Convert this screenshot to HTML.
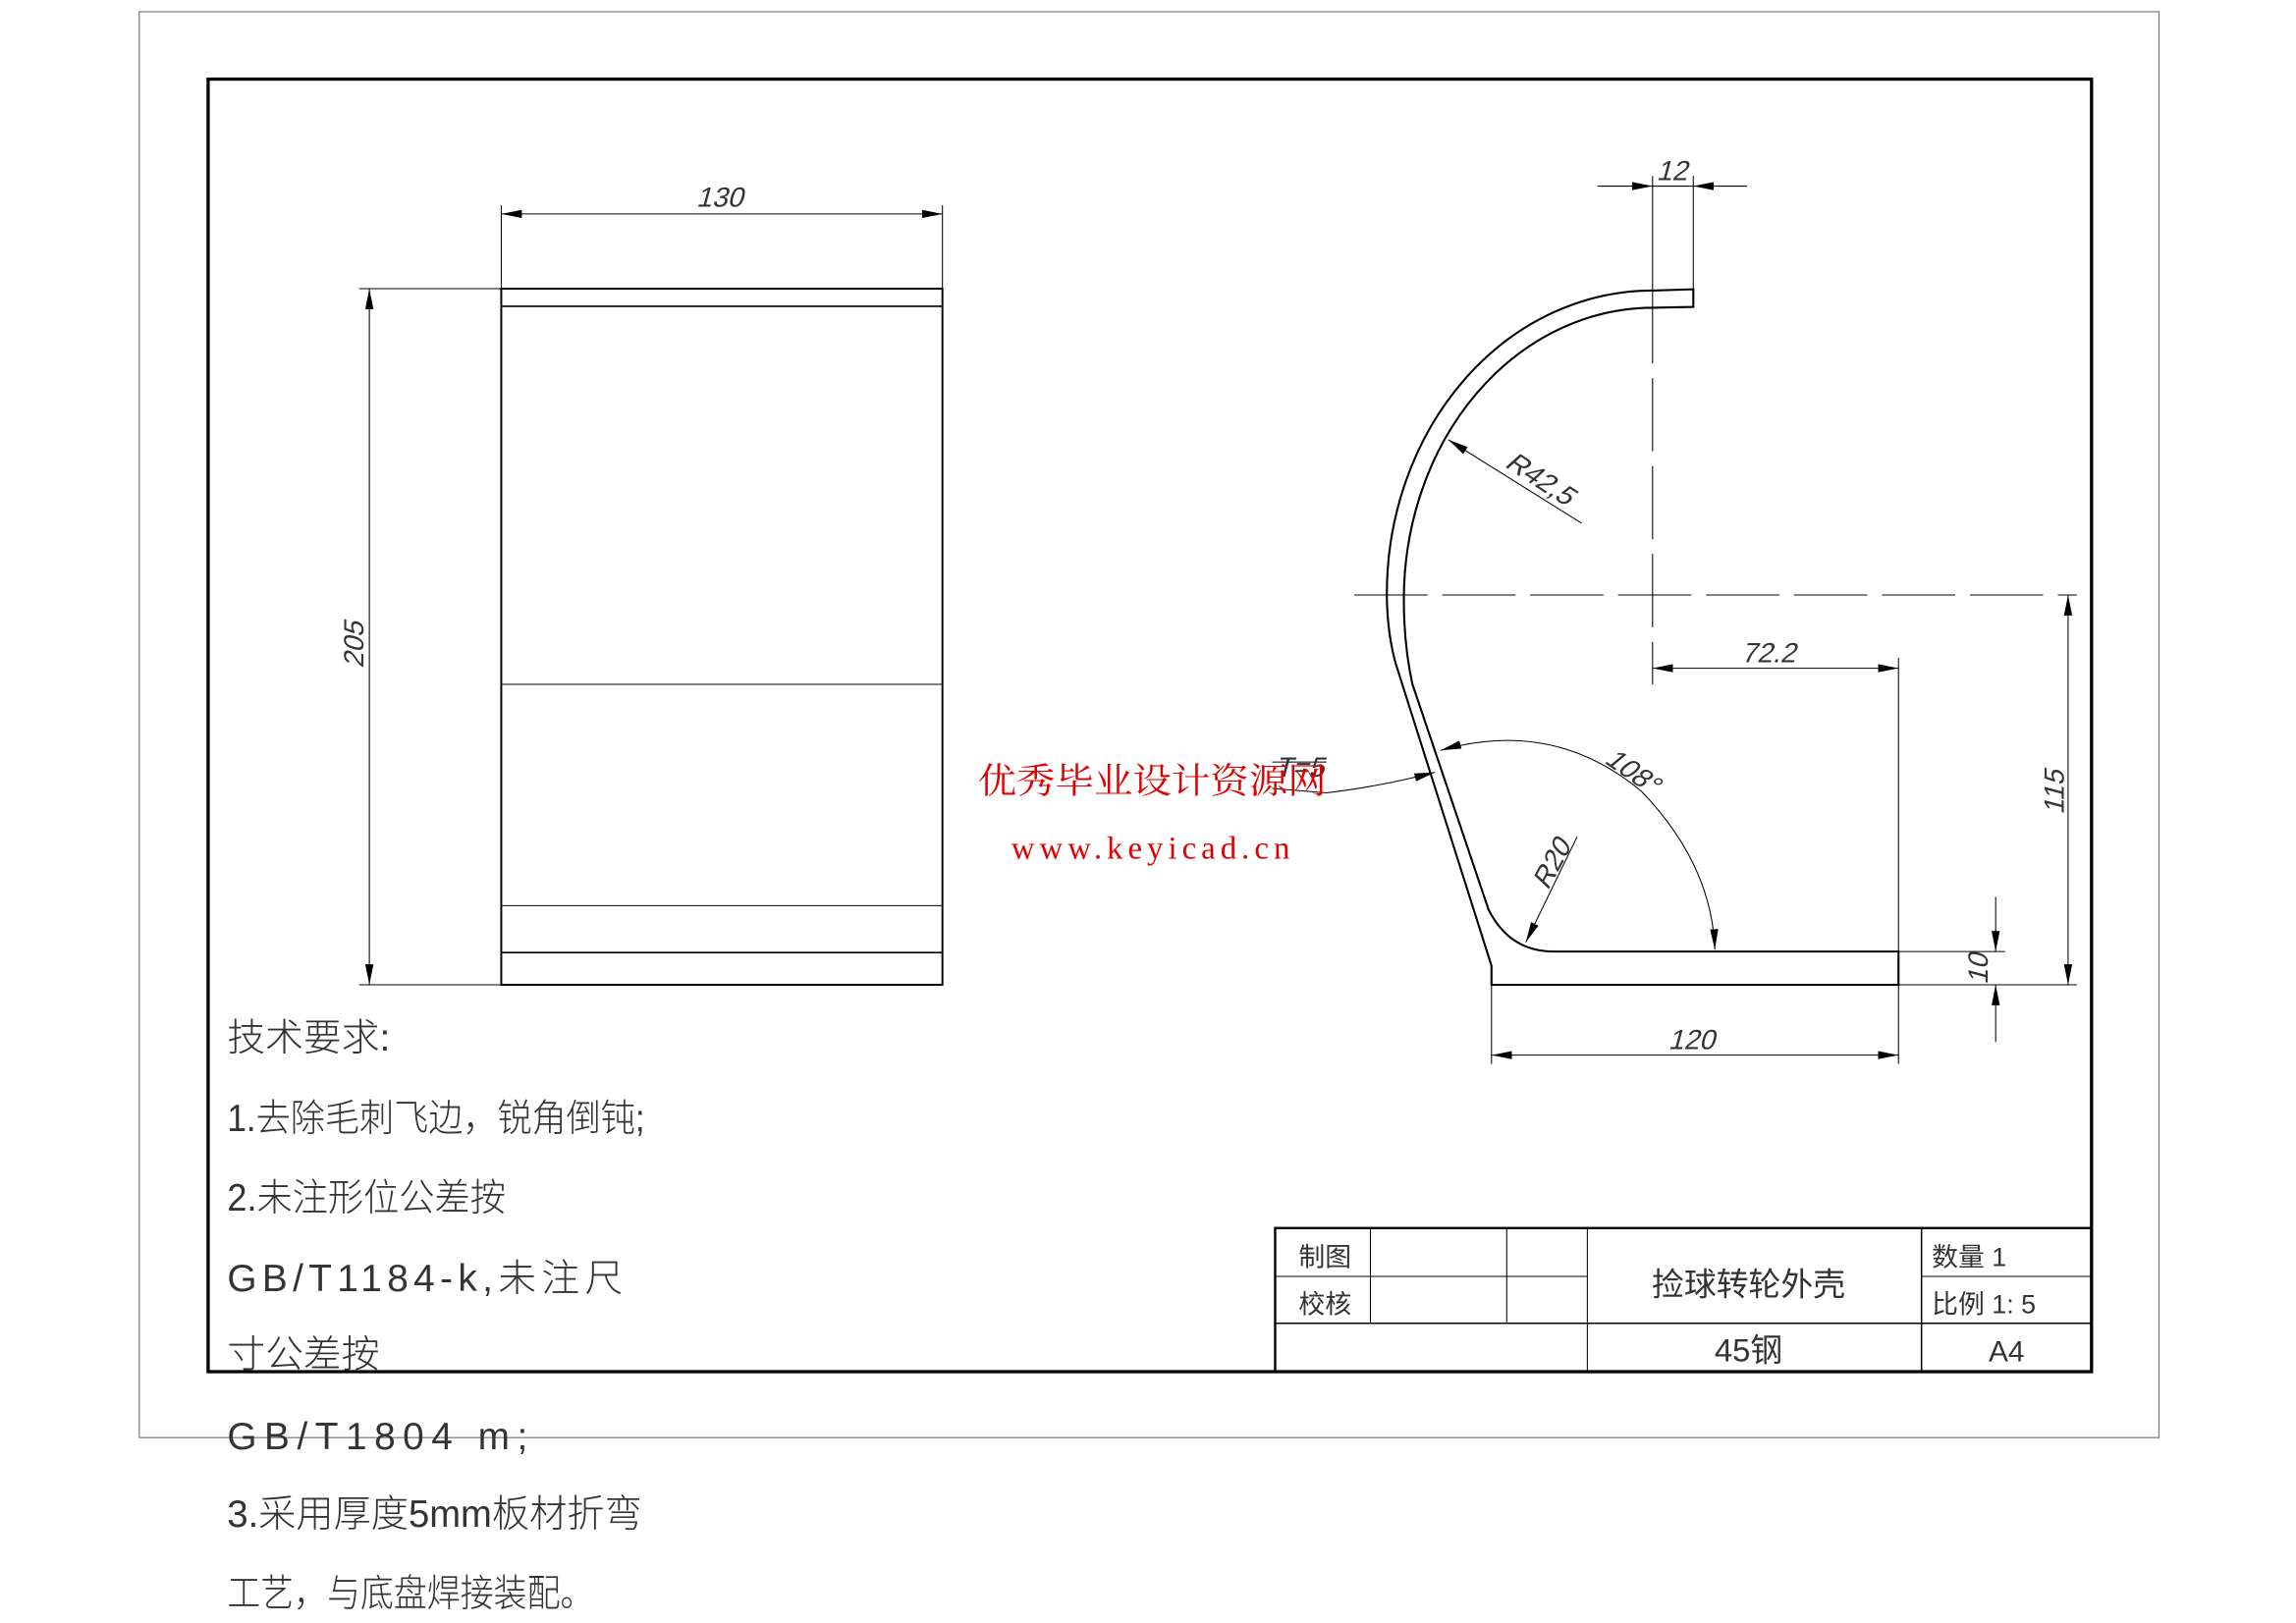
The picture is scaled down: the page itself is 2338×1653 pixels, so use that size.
<!DOCTYPE html>
<html><head><meta charset="utf-8"><style>
html,body{margin:0;padding:0;background:#fff;}
svg{display:block;}
text{font-family:"Liberation Sans","Noto Sans CJK SC",sans-serif;fill:#333;}
</style></head><body>
<svg width="2338" height="1653" viewBox="0 0 1566.5 1107.5" preserveAspectRatio="none" xmlns="http://www.w3.org/2000/svg">
<defs>
<marker id="a" viewBox="0 0 10 4" refX="10" refY="2" markerWidth="14" markerHeight="5.6" markerUnits="userSpaceOnUse" orient="auto-start-reverse"><path d="M0,0 L10,2 L0,4 Z" fill="#000"/></marker>
</defs>
<rect x="0" y="0" width="1566.5" height="1107.5" fill="#fff"/>
<rect x="95" y="8" width="1378" height="973" fill="none" stroke="#777" stroke-width="0.8"/>
<rect x="142" y="54" width="1285" height="882" fill="none" stroke="#000" stroke-width="2.2"/>

<g stroke="#000" fill="none" stroke-width="0.7">
<rect x="342" y="197" width="301" height="475" stroke-width="1.3"/>
<line x1="342" y1="209" x2="643" y2="209" stroke-width="1.1"/>
<line x1="342" y1="467" x2="643" y2="467"/>
<line x1="342" y1="618" x2="643" y2="618"/>
<line x1="342" y1="650" x2="643" y2="650" stroke-width="1.1"/>
<line x1="342" y1="140" x2="342" y2="197"/>
<line x1="643" y1="140" x2="643" y2="197"/>
<line x1="342" y1="146" x2="643" y2="146" marker-start="url(#a)" marker-end="url(#a)"/>
<line x1="245" y1="197" x2="342" y2="197"/>
<line x1="245" y1="672" x2="342" y2="672"/>
<line x1="252" y1="197" x2="252" y2="672" marker-start="url(#a)" marker-end="url(#a)"/>

<path d="M1155.3,197.4 L1127.5,198.3 A181,207 0 0 0 946.2,404.8 Q946.2,430 952,452 L1017.6,659 L1017.6,672 L1295.3,672 L1295.3,649.3 L1060,649.3 Q1030,649.3 1015.6,620.7 L963.6,466.7 Q957.8,440 957.8,409 A170,199 0 0 1 1127.5,210 L1155.3,209.4 Z" stroke-width="1.4"/>
<line x1="924" y1="406" x2="1417" y2="406" stroke-dasharray="50,10"/>
<line x1="1127.5" y1="198" x2="1127.5" y2="467" stroke-dasharray="50,10"/>
<line x1="1127.5" y1="120" x2="1127.5" y2="198"/>
<line x1="1155.3" y1="120" x2="1155.3" y2="197"/>
<line x1="1090" y1="127" x2="1127.5" y2="127" marker-end="url(#a)"/>
<line x1="1192" y1="127" x2="1155.3" y2="127" marker-end="url(#a)"/>
<line x1="1127.5" y1="127" x2="1155.3" y2="127"/>
<line x1="1079" y1="357" x2="988" y2="300" marker-end="url(#a)"/>
<line x1="1295.3" y1="449" x2="1295.3" y2="649"/>
<line x1="1127.5" y1="456" x2="1295.3" y2="456" marker-start="url(#a)" marker-end="url(#a)"/>
<line x1="1295.3" y1="672" x2="1417" y2="672"/>
<line x1="1411" y1="406" x2="1411" y2="672" marker-start="url(#a)" marker-end="url(#a)"/>
<line x1="1295.3" y1="649.3" x2="1368" y2="649.3"/>
<line x1="1361.6" y1="612" x2="1361.6" y2="649.3" marker-end="url(#a)"/>
<line x1="1361.6" y1="711" x2="1361.6" y2="672" marker-end="url(#a)"/>
<line x1="1017.6" y1="672" x2="1017.6" y2="726"/>
<line x1="1295.3" y1="672" x2="1295.3" y2="726"/>
<line x1="1017.6" y1="720" x2="1295.3" y2="720" marker-start="url(#a)" marker-end="url(#a)"/>
<path d="M983,512 Q1060,490 1120,540 Q1168,590 1170,648" marker-start="url(#a)" marker-end="url(#a)"/>
<line x1="1076" y1="571" x2="1041" y2="643" marker-end="url(#a)"/>
<path d="M868,538 L905,541 Q940,537 979,527" marker-end="url(#a)"/>
<line x1="868" y1="520" x2="905" y2="520"/>

<rect x="870" y="838" width="557" height="98" stroke-width="1.6"/>
<line x1="870" y1="871" x2="1083" y2="871"/>
<line x1="870" y1="903" x2="1427" y2="903" stroke-width="1"/>
<line x1="1311" y1="871" x2="1427" y2="871"/>
<line x1="935" y1="838" x2="935" y2="903"/>
<line x1="1028" y1="838" x2="1028" y2="903"/>
<line x1="1083" y1="838" x2="1083" y2="936"/>
<line x1="1311" y1="838" x2="1311" y2="936" stroke-width="1"/>
</g>

<g font-size="19">
<text transform="translate(475,141) skewX(-15)">130</text>
<text transform="translate(248,456) rotate(-90) skewX(-15)">205</text>
<text transform="translate(1130,123) skewX(-15)">12</text>
<text transform="translate(1026,318) rotate(33) skewX(-15)">R42,5</text>
<text transform="translate(1188,452) skewX(-15)">72.2</text>
<text transform="translate(1408,556) rotate(-90) skewX(-15)">115</text>
<text transform="translate(1356,672) rotate(-90) skewX(-15)">10</text>
<text transform="translate(1138,716) skewX(-15)">120</text>
<text transform="translate(1094,520) rotate(35) skewX(-15)">108°</text>
<text transform="translate(1056,608) rotate(-62) skewX(-15)">R20</text>
<text transform="translate(870,530) skewX(-15)">T=5</text>
</g>

<g font-size="18">
<text x="886" y="864">制图</text>
<text x="886" y="896">校核</text>
<text x="1193" y="884" text-anchor="middle" font-size="22">捡球转轮外壳</text>
<text x="1193" y="929" text-anchor="middle" font-size="22">45钢</text>
<text x="1318" y="864">数量 1</text>
<text x="1318" y="896">比例 1: 5</text>
<text x="1369" y="929" text-anchor="middle" font-size="20">A4</text>
</g>

<g font-size="26" style="font-weight:300;fill:#555">
<text x="155" y="717">技术要求:</text>
<text x="155" y="772" textLength="285" lengthAdjust="spacingAndGlyphs">1.去除毛刺飞边，锐角倒钝;</text>
<text x="155" y="826" textLength="190" lengthAdjust="spacingAndGlyphs">2.未注形位公差按</text>
<text x="155" y="881" textLength="270" lengthAdjust="spacing">GB/T1184-k,未注尺</text>
<text x="155" y="933">寸公差按</text>
<text x="155" y="989" textLength="205" lengthAdjust="spacing">GB/T1804  m;</text>
<text x="155" y="1042" textLength="283" lengthAdjust="spacingAndGlyphs">3.采用厚度5mm板材折弯</text>
<text x="155" y="1096" textLength="250" lengthAdjust="spacingAndGlyphs">工艺，与底盘焊接装配。</text>
</g>

<text x="667" y="541" font-size="24" textLength="238" lengthAdjust="spacingAndGlyphs" style="fill:#e00000;font-family:'Liberation Serif','Noto Serif CJK SC',serif">优秀毕业设计资源网</text>
<text x="690" y="586" font-size="22" textLength="190" lengthAdjust="spacing" style="fill:#e00000;font-family:'Liberation Serif',serif">www.keyicad.cn</text>
</svg>
</body></html>
